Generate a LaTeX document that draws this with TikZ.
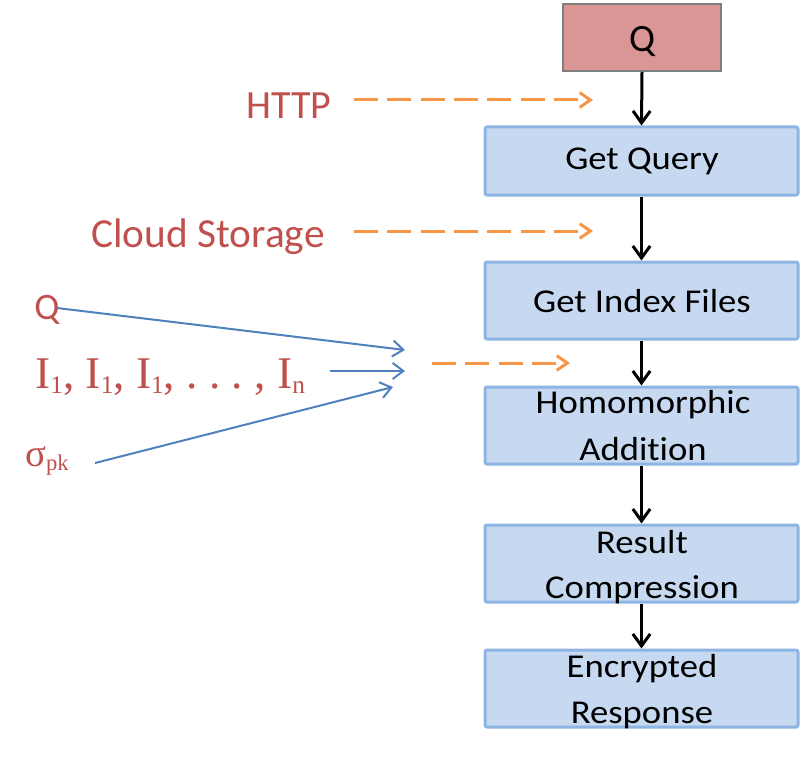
\documentclass[tikz,border=0pt]{standalone}
\usepackage{fontspec}
\usetikzlibrary{arrows.meta}
\newfontfamily\boxfont[FakeStretch=1.1,Ligatures=NoCommon]{Carlito}
\newfontfamily\calfont[Ligatures=NoCommon]{Carlito}
\newfontfamily\serfont{Liberation Serif}
\definecolor{redtext}{HTML}{C0504D}
\definecolor{orangeline}{HTML}{F79646}
\definecolor{blueline}{HTML}{4F81BD}
\definecolor{boxfill}{HTML}{C6D9F1}
\definecolor{boxedge}{HTML}{8EB4E3}
\definecolor{qfill}{HTML}{D99694}
\definecolor{qedge}{HTML}{7F7F7F}
\newcommand{\isub}[1]{\raisebox{-4pt}{\fontsize{19}{19}\selectfont #1}}
\newcommand{\ssub}[1]{\raisebox{-3pt}{\fontsize{17}{17}\selectfont #1}}
\frenchspacing
\begin{document}
\begin{tikzpicture}[x=0.75pt,y=-0.75pt,
  blbox/.style={draw=boxedge, fill=boxfill, line width=2.25pt, rounded corners=1.5pt,
    minimum width=234.75pt, inner sep=0pt},
  qbox/.style={draw=qedge, fill=qfill, line width=1.5pt, minimum width=118.5pt,
    minimum height=50.25pt, inner sep=0pt},
  btxt/.style={font=\boxfont\fontsize{25}{30}\selectfont, anchor=base, inner sep=0pt},
  lbl/.style={font=\calfont\fontsize{30}{36}\selectfont, text=redtext, anchor=base west, inner sep=0pt},
  flow/.style={-{Straight Barb[length=9pt,width=13pt]}, line width=2.25pt, black},
  feed/.style={-{Straight Barb[length=8pt,width=11pt]}, line width=2.25pt, orangeline,
    dash pattern=on 18pt off 7pt},
  inarrow/.style={-{Straight Barb[length=8pt,width=12pt]}, line width=1.5pt, blueline}]
\useasboundingbox (0,0) rectangle (802,756);

% boxes
\node[qbox] (q) at (642,37.5) {};
\node[blbox, minimum height=51pt] (gq) at (641.5,161) {};
\node[blbox, minimum height=57.75pt] (gi) at (641.5,300.5) {};
\node[blbox, minimum height=57.75pt] (ha) at (641.5,425.5) {};
\node[blbox, minimum height=57.75pt] (rc) at (641.5,563.5) {};
\node[blbox, minimum height=57.75pt] (er) at (641.5,688.5) {};

% box texts
\node[btxt, font=\calfont\fontsize{29}{34}\selectfont] (qt) at (642,52) {Q};
\node[btxt] (gqt) at (642,170) {Get Query};
\node[btxt] (git) at (642,312) {Get Index Files};
\node[btxt] (hat1) at (643,413) {Homomorphic};
\node[btxt] (hat2) at (643,460) {Addition};
\node[btxt] (rct1) at (642,553) {Result};
\node[btxt] (rct2) at (642,598) {Compression};
\node[btxt] (ert1) at (642,677) {Encrypted};
\node[btxt] (ert2) at (642,723) {Response};

% flow arrows
\draw[flow] (q.south) -- (gq.north);
\draw[flow] (gq.south) -- (gi.north);
\draw[flow] (gi.south) -- (ha.north);
\draw[flow] (ha.south) -- (rc.north);
\draw[flow] (rc.south) -- (er.north);

% left labels
\node[lbl] (http) at (246,119) {HTTP};
\node[lbl, font=\calfont\fontsize{31}{36}\selectfont] (cloud) at (91,247) {Cloud Storage};
\node[font=\calfont\fontsize{28}{32}\selectfont, text=redtext, anchor=base west, inner sep=0pt] (lq) at (34,319) {Q};
\node[font=\serfont\fontsize{34}{40}\selectfont, text=redtext, anchor=base west, inner sep=0pt] (ilist) at (35,388)
  {I\isub{1}, I\isub{1}, I\isub{1}, . . . , I\isub{n}};
\node[font=\serfont\fontsize{29}{32}\selectfont, text=redtext, anchor=base west, inner sep=0pt] (sig) at (25,466)
  {σ\ssub{pk}};

% orange dashed arrows
\coordinate (h1) at (354,100);  \coordinate (h2) at (593,100);
\coordinate (c1) at (354,231);  \coordinate (c2) at (593,231);
\coordinate (m1) at (432,363);  \coordinate (m2) at (570,363);
\draw[feed] (h1) -- (h2);
\draw[feed] (c1) -- (c2);
\draw[feed] (m1) -- (m2);

% blue input arrows
\coordinate (bq1) at (57,308);  \coordinate (bq2) at (405,350);
\coordinate (bi1) at (330,371); \coordinate (bi2) at (405,371);
\coordinate (bs1) at (95,463);  \coordinate (bs2) at (393,387);
\draw[inarrow] (bq1) -- (bq2);
\draw[inarrow] (bi1) -- (bi2);
\draw[inarrow] (bs1) -- (bs2);
\end{tikzpicture}
\end{document}
